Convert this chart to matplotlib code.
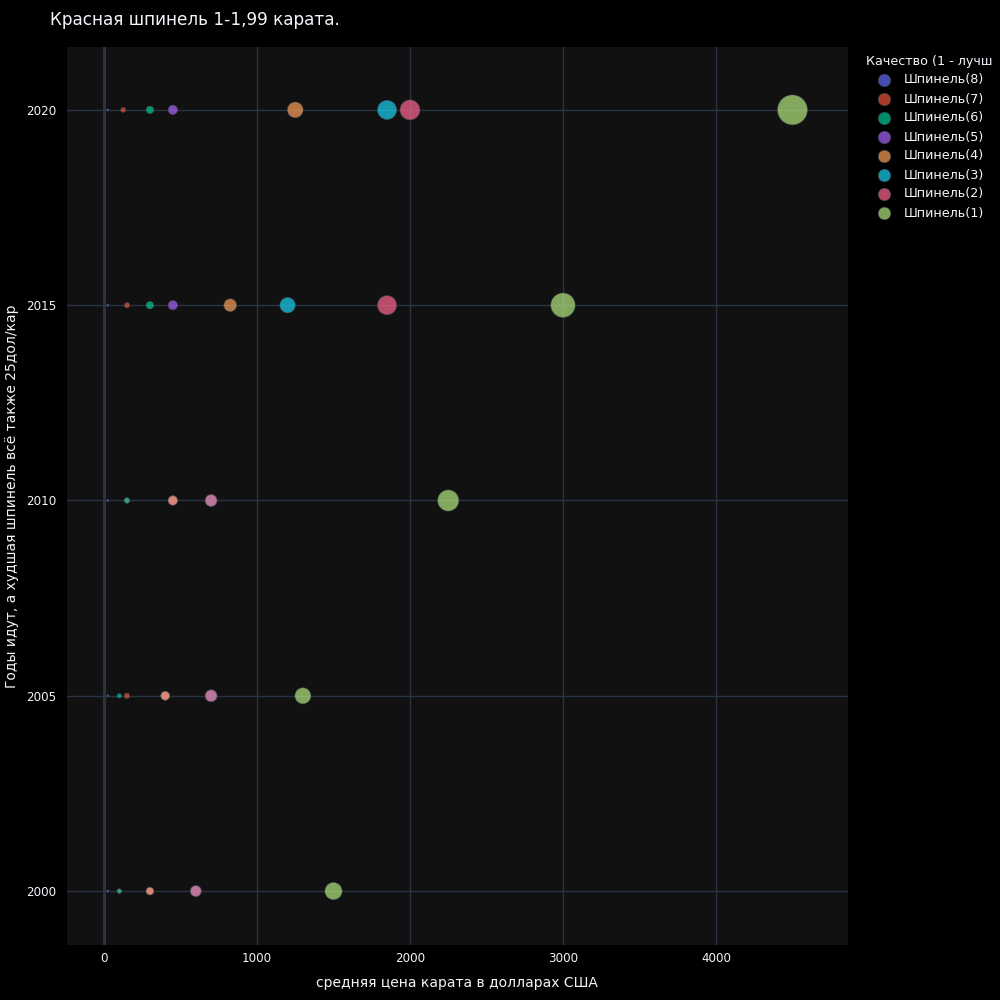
import matplotlib
matplotlib.use("Agg")
import matplotlib.pyplot as plt
from matplotlib.lines import Line2D
import numpy as np

# data
years = [2000, 2005, 2010, 2015, 2020]
categories = ["Шпинель(8)", "Шпинель(7)", "Шпинель(6)", "Шпинель(5)",
              "Шпинель(4)", "Шпинель(3)", "Шпинель(2)", "Шпинель(1)"]
prices = {
    "Шпинель(8)": [25, 25, 25, 25, 25],
    "Шпинель(7)": [100, 150, 150, 150, 125],
    "Шпинель(6)": [100, 100, 150, 300, 300],
    "Шпинель(5)": [300, 400, 450, 450, 450],
    "Шпинель(4)": [300, 400, 450, 825, 1250],
    "Шпинель(3)": [600, 700, 700, 1200, 1850],
    "Шпинель(2)": [600, 700, 700, 1850, 2000],
    "Шпинель(1)": [1500, 1300, 2250, 3000, 4500],
}
colors = ["#636efa", "#EF553B", "#00cc96", "#ab63fa",
          "#FFA15A", "#19d3f3", "#FF6692", "#B6E880"]

title = "Красная шпинель 1-1,99 карата."
xlabel = "средняя цена карата в долларах США"
ylabel = "Годы идут, а худшая шпинель всё также 25дол/кар"
legend_title = "Качество (1 - лучш"

plt.rcParams['font.family'] = ['DejaVu Sans']
txt = "#f2f5fa"
grid = "#283442"

fig = plt.figure(figsize=(10, 10), dpi=100)
fig.patch.set_facecolor("#000000")
ax = fig.add_axes([0.067, 0.055, 0.781, 0.898])
ax.set_facecolor("#111111")

max_price = max(max(v) for v in prices.values())
size_max = 30  # px diameter of the largest bubble
alpha = 0.7
for cat, col in zip(categories, colors):
    vals = np.array(prices[cat], dtype=float)
    d_px = size_max * np.sqrt(vals / max_price)
    s = (d_px * 0.72) ** 2
    ax.scatter(vals, years, s=s, color=col, alpha=alpha,
               edgecolors="#3b4655", linewidths=0.5, zorder=3)

ax.set_xlim(-242, 4863)
ax.set_ylim(1998.62, 2021.61)
ax.set_xticks([0, 1000, 2000, 3000, 4000])
ax.set_yticks(years)
ax.grid(True, color=grid, linewidth=1, zorder=0)
ax.axvline(0, color=grid, linewidth=2.2, zorder=1)
for sp in ax.spines.values():
    sp.set_visible(False)
ax.tick_params(length=0, colors=txt, labelsize=8.6)
ax.tick_params(axis='y', pad=8)
ax.tick_params(axis='x', pad=5)

fig.text(0.05, 0.98, title, color=txt, fontsize=12.2, va='center', ha='left')
fig.text(0.457, 0.017, xlabel, color=txt, fontsize=10, ha='center', va='center')
fig.text(0.012, 0.504, ylabel, color=txt, fontsize=10, ha='center', va='center',
         rotation=90)

# legend
fig.text(0.866, 0.938, legend_title, color=txt, fontsize=9.2, ha='left', va='center')
for i, (cat, col) in enumerate(zip(categories, colors)):
    y = 1 - (80 + i * 19) / 1000
    fig.add_artist(Line2D([0.884], [y], transform=fig.transFigure, marker='o',
                          markersize=9, color=col, alpha=alpha, linestyle='none',
                          markeredgecolor="#3b4655", markeredgewidth=0.5))
    fig.text(0.904, y, cat, color=txt, fontsize=9.2, ha='left', va='center')

fig.savefig("out.png", dpi=100, facecolor=fig.get_facecolor())
